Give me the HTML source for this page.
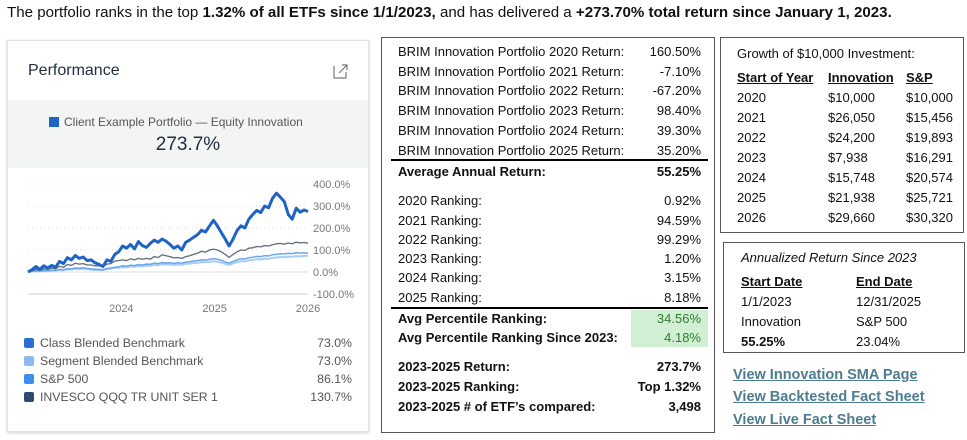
<!DOCTYPE html>
<html><head><meta charset="utf-8">
<style>
*{margin:0;padding:0;box-sizing:border-box}
body{width:967px;height:440px;background:#fff;font-family:"Liberation Sans",sans-serif;position:relative;overflow:hidden;color:#111}
.abs{position:absolute;white-space:nowrap}
.card{position:absolute;left:7px;top:40px;width:362px;height:392px;border:1px solid #dfe3e6;box-shadow:0 1px 3px rgba(0,0,0,.18);background:#fff}
.box{position:absolute;border:1.5px solid #555}
.r{position:absolute;font-size:13px;white-space:nowrap}
.v{position:absolute;font-size:13px;text-align:right;white-space:nowrap}
.b{font-weight:bold}
.u{text-decoration:underline;font-weight:bold}
.lnk{position:absolute;left:733px;font-size:14.5px;font-weight:bold;color:#4c7c8e;text-decoration:underline;white-space:nowrap}
.leg{position:absolute;left:24px;font-size:12.3px;color:#555;white-space:nowrap}
.leg i{display:inline-block;width:10px;height:10px;border-radius:2px;margin-right:6px;vertical-align:-1px}
.legv{position:absolute;right:615px;font-size:12.3px;color:#555;text-align:right}
</style></head><body>
<div class="abs" style="left:7px;top:4px;font-size:15.1px;">The portfolio ranks in the top <b>1.32% of all ETFs since 1/1/2023,</b> and has delivered a <b>+273.70% total return since January 1, 2023.</b></div>

<div class="card">
  <div class="abs" style="left:20px;top:21px;font-size:16px;color:#1f2d3d">Performance</div>
  <svg style="position:absolute;left:325px;top:22px" width="16" height="16"><path d="M1 3 V15 H13 V9" fill="none" stroke="#777" stroke-width="1.2"/><path d="M6 10 L14 2 M9 2 H14 V7" fill="none" stroke="#777" stroke-width="1.2"/></svg>
  <div style="position:absolute;left:0;top:59px;width:360px;height:68px;background:#f3f5f5"></div>
  <div class="abs" style="left:41px;top:74px;font-size:12px;color:#555"><span style="display:inline-block;width:10px;height:10px;background:#1f63c6;margin-right:5px;vertical-align:-1px"></span>Client Example Portfolio — Equity Innovation</div>
  <div class="abs" style="left:0;width:360px;text-align:center;top:93px;font-size:19px;color:#1f2d3d">273.7%</div>
</div>
<svg id="chart" style="position:absolute;left:0;top:170px" width="370" height="150"></svg>

<div class="leg" style="top:336px"><i style="background:#2a6fd0"></i>Class Blended Benchmark</div><div class="legv" style="top:336px">73.0%</div>
<div class="leg" style="top:354px"><i style="background:#8db9ef"></i>Segment Blended Benchmark</div><div class="legv" style="top:354px">73.0%</div>
<div class="leg" style="top:372px"><i style="background:#3d8ef0"></i>S&amp;P 500</div><div class="legv" style="top:372px">86.1%</div>
<div class="leg" style="top:390px"><i style="background:#2d4a72"></i>INVESCO QQQ TR UNIT SER 1</div><div class="legv" style="top:390px">130.7%</div>

<div class="box" style="left:381px;top:37px;width:334px;height:396px"></div>
<div style="position:absolute;left:631px;top:310px;width:77px;height:37px;background:#d1efd3"></div>
<div style="position:absolute;left:391px;top:159px;width:317px;height:2px;background:#000"></div>
<div style="position:absolute;left:391px;top:307px;width:317px;height:2px;background:#000"></div>
<div id="mid"></div>

<div class="box" style="left:720px;top:37px;width:244px;height:196px"></div>
<div class="r" style="left:737px;top:46px">Growth of $10,000 Investment:</div>
<div class="r u" style="left:737px;top:70px">Start of Year</div><div class="r u" style="left:828px;top:70px">Innovation</div><div class="r u" style="left:906px;top:70px">S&amp;P</div>
<div id="grow"></div>

<div class="box" style="left:723px;top:242px;width:242px;height:111px"></div>
<div class="r" style="left:741px;top:250px;font-style:italic">Annualized Return Since 2023</div>
<div class="r u" style="left:741px;top:274px">Start Date</div><div class="r u" style="left:856px;top:274px">End Date</div>
<div class="r" style="left:741px;top:294px">1/1/2023</div><div class="r" style="left:856px;top:294px">12/31/2025</div>
<div class="r" style="left:741px;top:314px">Innovation</div><div class="r" style="left:856px;top:314px">S&amp;P 500</div>
<div class="r b" style="left:741px;top:334px">55.25%</div><div class="r" style="left:856px;top:334px">23.04%</div>

<div class="lnk" style="top:367px">View Innovation SMA Page</div>
<div class="lnk" style="top:389px">View Backtested Fact Sheet</div>
<div class="lnk" style="top:412px">View Live Fact Sheet</div>

<script>
const rows=[
["BRIM Innovation Portfolio 2020 Return:","160.50%",44,0],["BRIM Innovation Portfolio 2021 Return:","-7.10%",64,0],
["BRIM Innovation Portfolio 2022 Return:","-67.20%",83,0],["BRIM Innovation Portfolio 2023 Return:","98.40%",103,0],
["BRIM Innovation Portfolio 2024 Return:","39.30%",123,0],["BRIM Innovation Portfolio 2025 Return:","35.20%",143,0],
["Average Annual Return:","55.25%",164,1],
["2020 Ranking:","0.92%",193,0],["2021 Ranking:","94.59%",213,0],["2022 Ranking:","99.29%",232,0],
["2023 Ranking:","1.20%",251,0],["2024 Ranking:","3.15%",270,0],["2025 Ranking:","8.18%",290,0],
["Avg Percentile Ranking:","34.56%",311,1,1],["Avg Percentile Ranking Since 2023:","4.18%",330,1,1],
["2023-2025 Return:","273.7%",359,1],["2023-2025 Ranking:","Top 1.32%",379,1],["2023-2025 # of ETF’s compared:","3,498",399,1]];
let h='';
rows.forEach(r=>{h+=`<div class="r${r[3]?' b':''}" style="left:398px;top:${r[2]}px">${r[0]}</div><div class="v${r[3]?' b':''}" style="right:266px;top:${r[2]}px;${r[4]?'color:#2e7d32;font-weight:normal':''}">${r[1]}</div>`});
document.getElementById('mid').innerHTML=h;
const gy=[["2020","$10,000","$10,000"],["2021","$26,050","$15,456"],["2022","$24,200","$19,893"],["2023","$7,938","$16,291"],["2024","$15,748","$20,574"],["2025","$21,938","$25,721"],["2026","$29,660","$30,320"]];
h='';gy.forEach((g,i)=>{const t=90+i*20;h+=`<div class="r" style="left:737px;top:${t}px">${g[0]}</div><div class="r" style="left:828px;top:${t}px">${g[1]}</div><div class="r" style="left:906px;top:${t}px">${g[2]}</div>`});
document.getElementById('grow').innerHTML=h;
</script>
<script>
// semi-monthly cumulative returns (%), Jan 2023 .. Dec 2025
const portfolio=[0,10,25,12,28,18,30,22,48,38,65,55,75,62,68,52,55,42,35,25,55,48,80,92,118,108,125,105,138,120,112,130,145,135,150,140,125,108,118,100,135,145,158,170,190,182,208,235,210,180,150,118,150,188,210,200,240,262,280,270,300,292,335,358,340,320,262,240,290,272,282,275];
const qqq=[0,6,12,8,14,12,18,15,26,22,34,30,40,36,38,32,32,28,28,24,36,38,50,52,55,52,60,55,62,58,62,58,70,66,78,74,70,64,66,62,70,74,80,86,94,90,100,104,100,92,80,66,80,92,100,98,108,110,116,114,120,118,124,128,130,126,132,128,136,132,134,131];
const sp500=[0,3,6,4,7,6,9,8,12,11,15,14,18,17,19,16,14,12,12,10,16,18,22,24,28,27,31,29,34,32,36,35,40,38,43,41,42,39,42,40,45,47,50,52,55,54,58,60,58,54,46,40,48,55,60,59,65,67,71,70,74,73,78,80,83,82,85,83,88,86,87,86];
const segment=[0,2,4,3,5,4,7,6,9,8,12,11,14,13,15,13,11,9,9,8,13,15,18,19,22,21,25,24,27,26,29,28,32,31,35,34,34,32,34,33,37,38,41,42,45,44,47,49,47,43,37,32,39,45,49,48,53,55,58,57,61,60,64,66,68,67,70,69,72,71,73,73];
const yTicks=[400,300,200,100,0,-100];
const yTickLabels=["400.0%","300.0%","200.0%","100.0%","0.0%","-100.0%"];
const xTicks=[12,24,36];
const xTickLabels=["2024","2025","2026"];
const NS='http://www.w3.org/2000/svg';
const svg=document.getElementById('chart');
const OY=170;
const X=m=>28+(m/36)*280;
const Y=v=>(272-OY)-v*0.22;
function el(t,a){const e=document.createElementNS(NS,t);for(const k in a)e.setAttribute(k,a[k]);svg.appendChild(e);return e;}
yTicks.forEach((t,i)=>{
  const g=el('line',{x1:28,x2:308,y1:Y(t),y2:Y(t),stroke:t===-100?'#ccc':'#ddd','stroke-width':1,'stroke-dasharray':t===-100||t===0?'':'1 3'});
  
  
  const tx=el('text',{x:313,y:Y(t)+4,'font-size':11,fill:'#777','font-family':'Liberation Sans, sans-serif'});
  tx.textContent=yTickLabels[i];
  
  
});
xTicks.forEach((t,i)=>{
  const tx=el('text',{x:X(t),y:142,'font-size':11,fill:'#777','text-anchor':'middle','font-family':'Liberation Sans, sans-serif'});
  tx.textContent=xTickLabels[i];
  
  
});
function line(d,c,w,name){
  const n=d.length;
  const p=d.map((v,i)=>(i?'L':'M')+X(i*36/(n-1)).toFixed(1)+' '+Y(v).toFixed(1)).join(' ');
  const e=el('path',{d:p,fill:'none',stroke:c,'stroke-width':w,'stroke-linejoin':'round'});
  
  
}
line(segment,'#a9cdf5',2,'segment-blended-line');
line(sp500,'#6aa6ee',1.5,'sp500-line');
line(qqq,'#5f6b7c',1.3,'qqq-line');
line(portfolio,'#1f63c6',3,'portfolio-line');
</script>
</body></html>
